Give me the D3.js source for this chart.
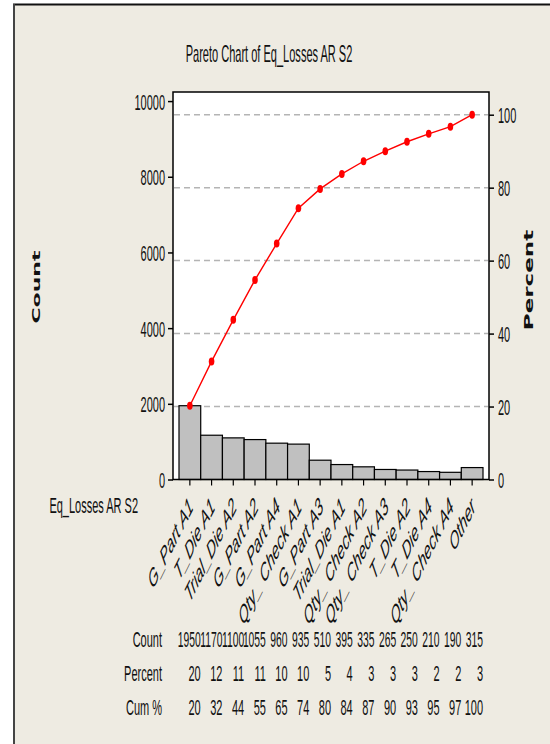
<!DOCTYPE html>
<html>
<head>
<meta charset="utf-8">
<script src="https://cdn.jsdelivr.net/npm/d3@7"></script>
<style>
  html, body { margin: 0; padding: 0; background: #ffffff; }
  svg { display: block; }
</style>
</head>
<body>
<div id="chart"></div>
<script>
// ---------------- data ----------------
const categories = ["G_Part A1", "T_Die A1", "Trial_Die A2", "G_Part A2", "G_Part A4",
  "Qty_ Check A1", "G_Part A3", "Trial_Die A1", "Qty_ Check A2", "Qty_ Check A3",
  "T_Die A2", "T_Die A4", "Qty_ Check A4", "Other"];
const counts = [1950, 1170, 1100, 1055, 960, 935, 510, 395, 335, 265, 250, 210, 190, 315];
const percentLabels = [20, 12, 11, 11, 10, 10, 5, 4, 3, 3, 3, 2, 2, 3];
const cumLabels = [20, 32, 44, 55, 65, 74, 80, 84, 87, 90, 93, 95, 97, 100];
const countTicks = [0, 2000, 4000, 6000, 8000, 10000];
const percentTicks = [0, 20, 40, 60, 80, 100];
const title = "Pareto Chart of Eq_Losses AR S2";
const xTitle = "Eq_Losses AR S2";
const rowLabels = ["Count", "Percent", "Cum %"];

// ---------------- layout ----------------
const W = 550, H = 744;
const plot = { left: 173, right: 489, top: 92, bottom: 479.5 };
const barRange = [179, 483];
const countMax = 10240;
const SX = 0.5;               // horizontal squeeze of glyphs
const FONT = "'Liberation Sans', Arial, sans-serif";
const BOLD = "'DejaVu Sans', Verdana, sans-serif";
const bg = "#EEEBE2";

const svg = d3.select("#chart").append("svg").attr("width", W).attr("height", H);

svg.append("rect").attr("width", W).attr("height", H).attr("fill", "#ffffff");
svg.append("rect").attr("x", 14).attr("y", 5).attr("width", W - 14).attr("height", H - 5).attr("fill", bg);
svg.append("line").attr("x1", 13).attr("x2", W).attr("y1", 4.5).attr("y2", 4.5)
  .attr("stroke", "#111").attr("stroke-width", 2);
svg.append("line").attr("x1", 14).attr("x2", 14).attr("y1", 4).attr("y2", H)
  .attr("stroke", "#444").attr("stroke-width", 2);

const total = d3.sum(counts);
const cum = d3.cumsum(counts);

const x = d3.scaleBand().domain(categories).range(barRange).padding(0);
const y = d3.scaleLinear().domain([0, countMax]).range([plot.bottom, plot.top]);
const yP = d3.scaleLinear().domain([0, countMax / total * 100]).range([plot.bottom, plot.top]);

function squeezedText(g, px, py, str, anchor, size, sx) {
  return g.append("text")
    .attr("transform", `translate(${px},${py}) scale(${sx || SX},1)`)
    .attr("text-anchor", anchor)
    .attr("font-family", FONT)
    .attr("font-size", size)
    .attr("fill", "#111")
    .text(str);
}

// plot background
svg.append("rect").attr("x", plot.left).attr("y", plot.top)
  .attr("width", plot.right - plot.left).attr("height", plot.bottom - plot.top)
  .attr("fill", "#ffffff");

// gridlines (percent)
svg.append("g").selectAll("line").data(percentTicks.filter(d => d > 0)).join("line")
  .attr("x1", plot.left + 1).attr("x2", plot.right - 1)
  .attr("y1", d => yP(d)).attr("y2", d => yP(d))
  .attr("stroke", "#b4b4b4").attr("stroke-width", 1.5).attr("stroke-dasharray", "6,4");

// bars
svg.append("g").selectAll("rect").data(counts).join("rect")
  .attr("x", (d, i) => x(categories[i]))
  .attr("y", d => y(d))
  .attr("width", x.bandwidth())
  .attr("height", d => y(0) - y(d))
  .attr("fill", "#c0c0c0").attr("stroke", "#000").attr("stroke-width", 1.2);

// cumulative line
const line = d3.line().x((d, i) => x(categories[i]) + x.bandwidth() / 2).y(d => y(d));
svg.append("path").datum(cum).attr("d", line)
  .attr("fill", "none").attr("stroke", "#ff0000").attr("stroke-width", 1.4);
svg.append("g").selectAll("ellipse").data(cum).join("ellipse")
  .attr("cx", (d, i) => x(categories[i]) + x.bandwidth() / 2)
  .attr("cy", d => y(d)).attr("rx", 2.8).attr("ry", 4)
  .attr("fill", "#ff0000");

// plot frame
svg.append("rect").attr("x", plot.left).attr("y", plot.top)
  .attr("width", plot.right - plot.left).attr("height", plot.bottom - plot.top)
  .attr("fill", "none").attr("stroke", "#000").attr("stroke-width", 1.5);

// left axis
const gL = svg.append("g").attr("transform", `translate(${plot.left},0)`)
  .call(d3.axisLeft(y).tickValues(countTicks).tickSize(5).tickFormat(d3.format("d")));
gL.select(".domain").remove();
gL.selectAll(".tick line").attr("stroke", "#000").attr("stroke-width", 1.5);
gL.selectAll(".tick text").each(function() {
  d3.select(this).attr("x", null).attr("dy", "0.36em")
   .attr("transform", `translate(-8,0) scale(${SX},1)`)
   .attr("font-family", FONT).attr("font-size", 22).attr("fill", "#111")
   .attr("text-anchor", "end");
});

// right axis
const gR = svg.append("g").attr("transform", `translate(${plot.right},0)`)
  .call(d3.axisRight(yP).tickValues(percentTicks).tickSize(5).tickFormat(d3.format("d")));
gR.select(".domain").remove();
gR.selectAll(".tick line").attr("stroke", "#000").attr("stroke-width", 1.5);
gR.selectAll(".tick text").each(function() {
  d3.select(this).attr("x", null).attr("dy", "0.36em")
   .attr("transform", `translate(9,0) scale(${SX},1)`)
   .attr("font-family", FONT).attr("font-size", 22).attr("fill", "#111")
   .attr("text-anchor", "start");
});

// bottom axis ticks
const gB = svg.append("g").attr("transform", `translate(0,${plot.bottom})`)
  .call(d3.axisBottom(x).tickSize(6).tickFormat(""));
gB.select(".domain").remove();
gB.selectAll(".tick line").attr("stroke", "#000").attr("stroke-width", 1.2);

// rotated category labels
const gLab = svg.append("g");
categories.forEach((c) => {
  const cx = x(c) + x.bandwidth() / 2;
  gLab.append("text")
    .attr("transform", `translate(${cx + 1},502) scale(${SX},1) rotate(-45)`)
    .attr("text-anchor", "end").attr("dy", "0.35em")
    .attr("font-family", FONT).attr("font-size", 25).attr("font-style", "italic")
    .attr("fill", "#111").text(c);
});

// titles
squeezedText(svg, 269, 62, title, "middle", 23, 0.48);
squeezedText(svg, 138, 513, xTitle, "end", 22);

svg.append("text")
  .attr("transform", `translate(40,287) scale(${SX},1) rotate(-90)`)
  .attr("text-anchor", "middle").attr("font-family", BOLD).attr("font-weight", "bold")
  .attr("font-size", 22).attr("fill", "#111").text("Count");
svg.append("text")
  .attr("transform", `translate(533,280) scale(${SX},1) rotate(-90)`)
  .attr("text-anchor", "middle").attr("font-family", BOLD).attr("font-weight", "bold")
  .attr("font-size", 23).attr("fill", "#111").text("Percent");

// table
const rowY = [647, 681, 715];
const rowData = [counts, percentLabels, cumLabels];
rowLabels.forEach((lab, r) => {
  squeezedText(svg, 162, rowY[r], lab, "end", 22);
  rowData[r].forEach((v, i) => {
    squeezedText(svg, x(categories[i]) + x.bandwidth(), rowY[r], String(v), "end", 22, r === 0 ? 0.47 : SX);
  });
});
</script>
</body>
</html>
